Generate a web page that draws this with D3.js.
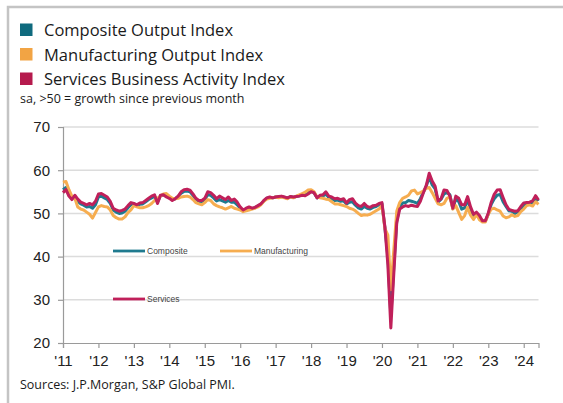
<!DOCTYPE html>
<html>
<head>
<meta charset="utf-8">
<script src="https://cdn.jsdelivr.net/npm/d3@7"></script>
<style>
  body { margin: 0; background: #fff; }
  svg { display: block; }
</style>
</head>
<body>
<div id="chart"></div>
<script>
// monthly readings, Jan 2011 .. Jun 2024
const first_year = 2011

const composite = [
  55.5, 56.0, 54.4, 53.5, 54.0, 52.8, 52.2, 51.9, 51.5, 51.6, 51.2, 52.0,
  53.8, 54.0, 53.6, 53.2, 52.3, 50.8, 50.3, 50.0, 50.1, 50.5, 51.3, 52.0,
  52.2, 51.9, 52.1, 52.2, 52.7, 53.2, 53.6, 54.0, 52.6, 54.1, 54.3, 54.0,
  53.6, 53.2, 53.4, 53.9, 54.7, 55.1, 55.2, 55.0, 54.2, 53.2, 52.8, 52.7,
  53.2, 54.3, 54.2, 53.6, 52.9, 53.2, 52.9, 52.6, 53.0, 52.6, 52.6, 52.0,
  51.2, 50.6, 51.0, 51.3, 51.1, 51.3, 51.7, 52.1, 52.9, 53.5, 53.7, 53.6,
  53.8, 53.8, 53.9, 53.7, 53.5, 53.9, 53.7, 53.9, 54.1, 54.3, 54.3, 54.8,
  55.1, 54.8, 53.6, 54.0, 54.0, 54.5, 53.7, 53.4, 53.0, 53.1, 52.8, 52.9,
  52.2, 52.6, 52.7, 51.9, 51.3, 51.0, 51.6, 51.2, 51.0, 51.4, 51.6, 52.0,
  52.2, 46.6, 40.0, 26.2, 37.5, 48.2, 51.5, 52.4, 52.5, 53.0, 52.8, 52.6,
  52.3, 53.4, 54.9, 56.3, 58.5, 56.6, 55.7, 52.6, 53.3, 54.5, 54.8, 54.3,
  51.1, 53.4, 52.7, 51.0, 51.3, 53.3, 50.8, 49.3, 50.0, 49.0, 48.2, 48.2,
  49.8, 52.1, 53.4, 54.2, 54.4, 52.7, 51.6, 50.6, 50.5, 50.0, 50.4, 51.0,
  51.8, 52.1, 52.3, 52.4, 53.7, 52.9
]

const manufacturing = [
  57.2, 57.4, 55.5, 54.0, 53.5, 51.5, 51.0, 50.8, 50.3, 49.8, 48.9, 50.2,
  51.5, 51.8, 51.6, 51.5, 50.8, 49.5, 49.0, 48.7, 48.7, 49.2, 50.2, 50.8,
  51.8, 51.5, 51.3, 51.3, 51.5, 51.8, 52.3, 53.0, 53.5, 54.0, 54.5, 54.6,
  54.0, 53.5, 53.4, 53.5, 53.8, 53.9, 54.0, 53.8, 53.2, 52.5, 52.2, 52.0,
  52.5, 53.2, 53.0, 52.2, 51.8, 51.5, 51.3, 51.0, 51.3, 51.6, 51.2, 51.0,
  50.8, 50.4, 50.6, 50.8, 51.0, 51.2, 51.5, 52.0, 52.8, 53.3, 53.5, 53.6,
  53.8, 53.6, 53.8, 53.6, 53.4, 53.8, 53.6, 54.0, 54.3, 54.6, 54.9, 55.4,
  55.5, 55.0, 53.8, 53.6, 53.5, 53.3, 53.2, 52.7, 52.2, 52.2, 52.0, 51.8,
  51.6, 51.2, 51.0, 50.6, 50.0, 49.5, 49.7, 49.6, 49.8, 50.2, 50.6, 51.0,
  51.9, 46.5, 45.0, 32.3, 41.5, 50.5, 52.5, 53.5, 53.8, 54.2, 55.2, 55.4,
  54.5, 54.8, 55.2, 55.8, 56.0, 54.8, 53.5, 52.2, 52.0, 52.3, 53.5, 53.8,
  51.0, 51.8, 50.2, 48.6, 49.5, 51.4, 49.6, 48.6, 49.8, 48.5, 48.0, 48.0,
  49.8, 51.0, 51.2, 50.8, 50.5, 49.4, 49.0, 49.2, 49.7, 49.3, 49.5, 50.4,
  51.0, 51.8, 52.0, 51.7, 52.7, 52.1
]

const services = [
  54.8, 55.5, 54.0, 53.2, 54.2, 53.3, 52.6, 52.3, 52.0, 52.3, 52.0, 52.8,
  54.5, 54.6, 54.2, 53.8, 52.8, 51.2, 50.8, 50.5, 50.7, 51.0, 51.8, 52.5,
  52.3, 52.0, 52.4, 52.5, 53.0, 53.5, 54.0, 54.3, 52.3, 54.2, 54.3, 53.8,
  53.5, 53.0, 53.4, 54.0, 55.0, 55.5, 55.6, 55.4, 54.5, 53.5, 53.0, 53.0,
  53.5, 55.0, 54.8, 54.2, 53.4, 54.0, 53.6, 53.2, 53.8, 53.0, 53.3, 52.6,
  51.5, 50.8, 51.2, 51.5, 51.2, 51.4, 51.8, 52.2, 53.0, 53.6, 53.8, 53.6,
  53.8, 53.9, 54.0, 53.8, 53.6, 53.9, 53.8, 53.9, 54.0, 54.2, 54.1, 54.5,
  55.0, 54.8, 53.6, 54.2, 54.3, 55.0, 54.0, 53.8, 53.4, 53.5, 53.2, 53.4,
  52.4, 53.2, 53.4, 52.4, 51.8, 51.6, 52.3, 51.6, 51.4, 51.8, 51.9, 52.3,
  52.5, 46.8, 38.0, 23.5, 36.0, 47.8, 51.0, 51.5, 51.8, 51.6, 51.9, 51.7,
  51.6, 52.8, 54.7, 56.5, 59.3, 57.5, 56.3, 52.9, 53.4, 55.4, 55.3, 54.0,
  51.2, 54.0, 53.5, 52.0, 52.0, 53.9, 51.5, 49.8, 50.3, 49.5, 48.3, 48.3,
  50.1, 52.6, 54.4, 55.4, 55.5, 53.7, 52.0, 50.9, 50.7, 50.5, 50.6, 51.6,
  52.4, 52.5, 52.6, 52.9, 54.1, 53.1
]

const x_ticks = d3.range(2011, 2025)
const x_tick_labels = ["'11", "'12", "'13", "'14", "'15", "'16", "'17", "'18", "'19", "'20", "'21", "'22", "'23", "'24"]
const y_ticks = [20, 30, 40, 50, 60, 70]

const series = [
  { key: "Composite Output Index", short: "Composite", values: composite, color: "#1f7a8f", box: "#0f6a7e" },
  { key: "Manufacturing Output Index", short: "Manufacturing", values: manufacturing, color: "#f6ad50", box: "#f2a444" },
  { key: "Services Business Activity Index", short: "Services", values: services, color: "#c0205a", box: "#b51a4d" }
]

const width = 563,
      height = 403

const svg = d3.select("#chart")
    .append("svg")
    .attr("width", width)
    .attr("height", height)
    .style("background", "#fff")

// grey frame on top and left
svg.append("path")
    .attr("d", `M 8 ${height} V 7 H ${width}`)
    .attr("fill", "none")
    .attr("stroke", "#c4c4c4")
    .attr("stroke-width", 2.5)

const x = d3.scaleLinear()
    .domain([first_year, first_year + (composite.length - 1) / 12])
    .range([63, 538.5])

const y = d3.scaleLinear()
    .domain([20, 70])
    .range([343, 127])

// gridlines
svg.append("g")
    .selectAll("line")
    .data(y_ticks.filter(d => d > 20))
    .enter()
    .append("line")
    .attr("x1", x.range()[0])
    .attr("x2", x.range()[1])
    .attr("y1", d => y(d))
    .attr("y2", d => y(d))
    .attr("stroke", "#dcdcdc")
    .attr("stroke-width", 1.5)

const y_axis = svg.append("g")
    .attr("transform", `translate(${x.range()[0]}, 0)`)
    .call(d3.axisLeft(y).tickValues(y_ticks).tickSize(5).tickPadding(8))

const x_axis = svg.append("g")
    .attr("transform", `translate(0, ${y.range()[0]})`)
    .call(d3.axisBottom(x).tickValues(x_ticks).tickSize(5).tickPadding(7)
        .tickFormat((d, i) => x_tick_labels[i]))

for (const axis of [x_axis, y_axis]) {
    axis.select(".domain").attr("stroke", "#9a9a9a").attr("stroke-width", 1.2)
    axis.selectAll(".tick line").attr("stroke", "#9a9a9a").attr("stroke-width", 1.2)
    axis.selectAll(".tick text")
        .attr("fill", "#222")
        .style("font-family", "'Liberation Sans', Arial, sans-serif")
        .style("font-size", "15px")
}

const line = d3.line()
    .x((d, i) => x(first_year + i / 12))
    .y(d => y(d))

svg.append("g")
    .selectAll("path")
    .data(series)
    .enter()
    .append("path")
    .attr("fill", "none")
    .attr("stroke", d => d.color)
    .attr("stroke-width", 3)
    .attr("stroke-linejoin", "round")
    .attr("d", d => line(d.values))

// in-plot legend
const inner_legend = [
  { s: series[0], x: 113, y: 251 },
  { s: series[1], x: 220, y: 251 },
  { s: series[2], x: 113, y: 299 }
]

const inner = svg.append("g")
    .selectAll("g")
    .data(inner_legend)
    .enter()
    .append("g")
    .attr("transform", d => `translate(${d.x}, ${d.y})`)

inner.append("line")
    .attr("x1", 0)
    .attr("x2", 32)
    .attr("stroke", d => d.s.color)
    .attr("stroke-width", 2.8)

inner.append("text")
    .attr("x", 34)
    .attr("y", 3)
    .attr("fill", "#444")
    .style("font-family", "'Liberation Sans', Arial, sans-serif")
    .style("font-size", "8.5px")
    .text(d => d.s.short)

// top legend
const top_legend = svg.append("g")
    .selectAll("g")
    .data(series)
    .enter()
    .append("g")
    .attr("transform", (d, i) => `translate(20, ${23.5 + i * 24.5})`)

top_legend.append("rect")
    .attr("width", 12.5)
    .attr("height", 12.5)
    .attr("fill", d => d.box)

top_legend.append("text")
    .attr("x", 24)
    .attr("y", 12.5)
    .attr("fill", "#1a1a1a")
    .style("font-family", "'Open Sans', sans-serif")
    .style("font-size", "16.5px")
    .text(d => d.key)

svg.append("text")
    .attr("x", 20)
    .attr("y", 103)
    .attr("fill", "#1a1a1a")
    .style("font-family", "'Open Sans', sans-serif")
    .style("font-size", "12.5px")
    .text("sa, >50 = growth since previous month")

svg.append("text")
    .attr("x", 20)
    .attr("y", 389)
    .attr("fill", "#1a1a1a")
    .style("font-family", "'Open Sans', sans-serif")
    .style("font-size", "12.5px")
    .text("Sources: J.P.Morgan, S&P Global PMI.")
</script>
</body>
</html>
